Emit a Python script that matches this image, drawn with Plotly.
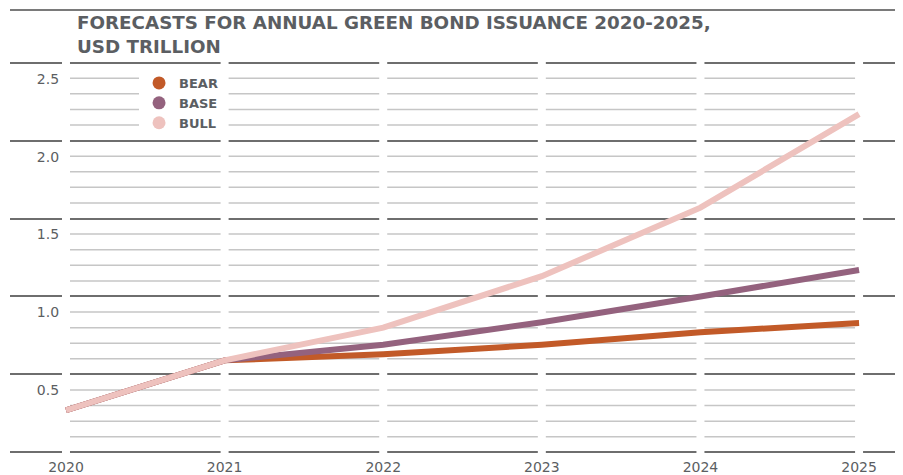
import plotly.graph_objects as go

# forecasts of annual green bond issuance, USD trillion
years = [2020, 2021, 2022, 2023, 2024, 2025]
bear = [0.27, 0.59, 0.63, 0.69, 0.77, 0.83]
base = [0.27, 0.59, 0.69, 0.835, 1.00, 1.17]
bull = [0.27, 0.59, 0.80, 1.13, 1.57, 2.17]

y_ticks = [0, 0.5, 1.0, 1.5, 2.0, 2.5]
y_labels = ["", "0.5", "1.0", "1.5", "2.0", "2.5"]
minor_ticks = [round(i * 0.1, 1) for i in range(1, 25) if i % 5]
Y_RANGE = [-0.03, 2.53]  # a little headroom so the edge rules are drawn

COLORS = {"BEAR": "#c25a28", "BASE": "#94627e", "BULL": "#eec2be"}
TEXT = "#5b5e62"
MAJOR = "#6e6e6e"
MINOR = "#c6c6c6"
FONT = "DejaVu Sans"

fig = go.Figure()

for name, vals in [("BEAR", bear), ("BASE", base), ("BULL", bull)]:
    fig.add_trace(go.Scatter(
        x=years, y=vals, mode="lines", name=name, showlegend=False,
        line=dict(color=COLORS[name], width=6),
    ))

# legend shows dots, not line swatches
for name in ["BEAR", "BASE", "BULL"]:
    fig.add_trace(go.Scatter(
        x=[None], y=[None], mode="markers", name=f"<b>{name}</b>",
        marker=dict(color=COLORS[name], size=13),
    ))

shapes = []
# light minor rules only within the 2020-2025 span
for v in minor_ticks:
    shapes.append(dict(type="line", xref="x", yref="y", x0=years[0], x1=years[-1], y0=v, y1=v,
                       line=dict(color=MINOR, width=1.5), layer="between"))
# white breaks in the rules at each year (axis refs so they sit above the grid)
for yr in years:
    shapes.append(dict(type="rect", xref="x", yref="y", xsizemode="pixel", xanchor=yr,
                       x0=-4, x1=4, y0=Y_RANGE[0] - 0.02, y1=Y_RANGE[1] + 0.02,
                       fillcolor="white", line=dict(width=0), layer="between"))
# rule above the title
shapes.append(dict(type="line", xref="paper", yref="paper", x0=0, x1=1, y0=1.12, y1=1.12,
                   line=dict(color="#7a7a7a", width=2)))

# page body adds an 8px offset, so the figure is sized to fit the window
fig.update_layout(
    width=895, height=467,
    margin=dict(l=2, r=0, t=50, b=15),
    paper_bgcolor="white", plot_bgcolor="white",
    font=dict(family=FONT, color=TEXT),
    title=dict(
        text="<b>FORECASTS FOR ANNUAL GREEN BOND ISSUANCE 2020-2025,<br>USD TRILLION</b>",
        x=0.075, xanchor="left", xref="paper", y=0.955, yanchor="top", yref="container",
        font=dict(family=FONT, size=18.3, color=TEXT),
    ),
    xaxis=dict(
        range=[2019.647, 2025.277], tickvals=years, ticktext=[str(y) for y in years],
        showgrid=False, zeroline=False, showline=False, ticks="",
        tickfont=dict(size=14, color=TEXT), fixedrange=True,
    ),
    yaxis=dict(
        range=Y_RANGE, tickvals=y_ticks, ticktext=y_labels,
        showgrid=True, gridcolor=MAJOR, gridwidth=1.8,
        zeroline=True, zerolinecolor=MAJOR, zerolinewidth=1.8,
        showline=False, ticks="", anchor="free", position=0.055,
        ticklabelshift=16, tickfont=dict(size=14, color=TEXT), fixedrange=True,
    ),
    legend=dict(
        x=0.1445, xanchor="left", y=0.975, yanchor="top",
        bgcolor="white", font=dict(family=FONT, size=13, color=TEXT),
        itemclick=False, itemdoubleclick=False,
    ),
    shapes=shapes,
    showlegend=True,
)

fig.write_html("out.html")
